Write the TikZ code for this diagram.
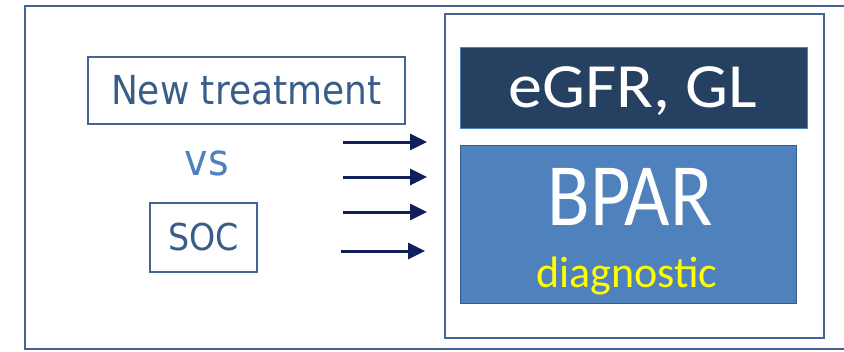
\documentclass[tikz,border=0pt]{standalone}
\usepackage{fontspec}
\usetikzlibrary{arrows.meta}
\newfontfamily\armfont[FakeStretch=0.9]{DejaVu Sans}
\newfontfamily\panelfont{Carlito}
\newfontfamily\widepanelfont[FakeStretch=1.08]{Carlito}
\newfontfamily\narrowpanelfont[FakeStretch=0.88]{Carlito}
\definecolor{framecol}{RGB}{66,101,146}
\definecolor{armtext}{RGB}{56,93,138}
\definecolor{vscol}{RGB}{79,129,189}
\definecolor{navyfill}{RGB}{38,64,97}
\definecolor{bparfill}{RGB}{79,129,189}
\definecolor{arrowcol}{RGB}{14,31,91}
\definecolor{diagyellow}{RGB}{255,255,0}

\begin{document}
\begin{tikzpicture}[x=1pt, y=-1pt,
  frame/.style={draw=framecol, line width=1.6pt, inner sep=0pt, anchor=north west},
  arm/.style={frame, text=armtext, font=\armfont},
  panel/.style={draw=#1, line width=1.2pt, inner sep=0pt, anchor=north west},
  feed/.style={draw=arrowcol, line width=3pt, -{Triangle[length=17pt, width=16pt]}}]
\useasboundingbox (0,0) rectangle (844,351);
\node[frame, minimum width=830pt, minimum height=343pt] (outer) at (24,5) {};
\node[frame, minimum width=379pt, minimum height=324pt] (trial) at (444,13) {};
\node[arm, minimum width=317pt, minimum height=67pt, font=\armfont\fontsize{40}{40}\selectfont] (newtx) at (87,56) {New treatment};
\node[text=vscol, font=\armfont\fontsize{44}{44}\selectfont, anchor=base] (vs) at (207,175) {vs};
\node[arm, minimum width=107pt, minimum height=69pt, font=\armfont\fontsize{37}{37}\selectfont] (soc) at (149,202) {SOC};
\node[panel=vscol, fill=navyfill, minimum width=347pt, minimum height=81pt] (egfr) at (460,47) {};
\node[text=white, font=\widepanelfont\fontsize{63}{63}\selectfont, anchor=base] (egfrlabel) at (633,107) {eGFR, GL};
\node[panel=armtext, fill=bparfill, minimum width=336pt, minimum height=158pt] (bpar) at (460,145) {};
\node[text=white, font=\narrowpanelfont\fontsize{89}{89}\selectfont, anchor=base] (bparlabel) at (630,225) {BPAR};
\node[text=diagyellow, font=\panelfont\fontsize{44}{44}\selectfont, anchor=base] (diaglabel) at (627,287) {diagnostic};
% four outcome arrows into the panel
\coordinate (s1) at (343,142); \coordinate (t1) at (427,142);
\coordinate (s2) at (343,177); \coordinate (t2) at (427,177);
\coordinate (s3) at (343,212); \coordinate (t3) at (427,212);
\coordinate (s4) at (341,251); \coordinate (t4) at (425,251);
\draw[feed] (s1) -- (t1);
\draw[feed] (s2) -- (t2);
\draw[feed] (s3) -- (t3);
\draw[feed] (s4) -- (t4);
\end{tikzpicture}
\end{document}
